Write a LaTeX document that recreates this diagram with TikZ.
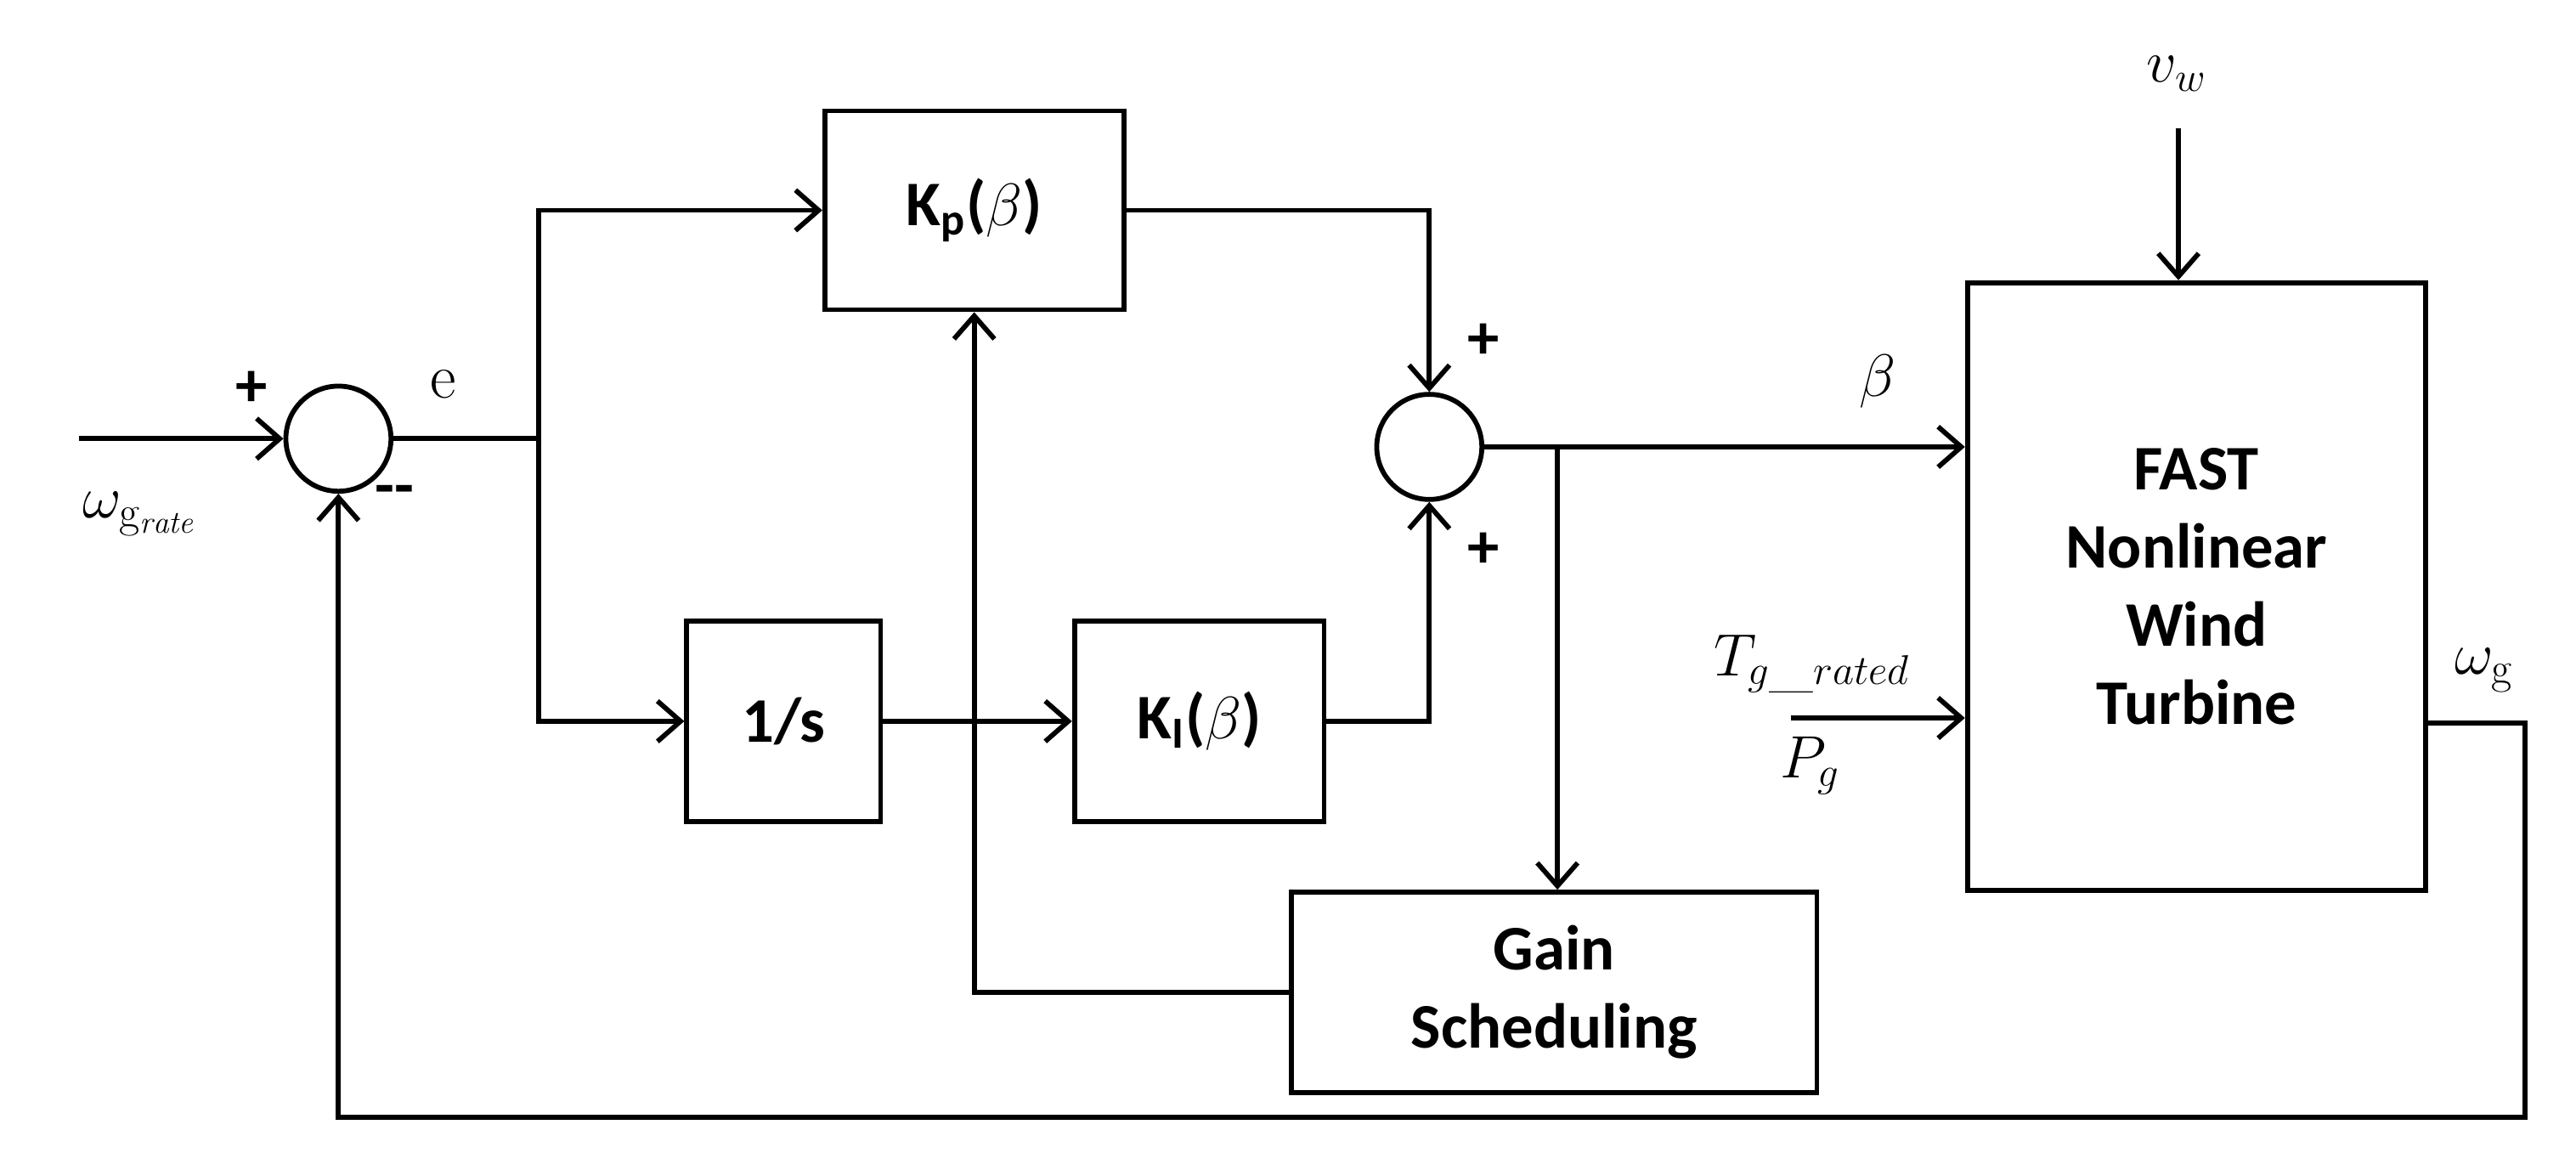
\documentclass[tikz,border=0pt]{standalone}
\usepackage{fontspec}
\newfontfamily\calib{Carlito}
\usetikzlibrary{arrows.meta}
\begin{document}
\begin{tikzpicture}[x=0.02cm,y=-0.02cm,
  blk/.style={draw, line width=1.7pt, inner sep=0pt, font=\calib\bfseries\fontsize{22}{27}\selectfont, align=center},
  sumn/.style={draw, circle, line width=1.7pt, minimum size=1.28cm, inner sep=0pt},
  lbl/.style={font=\fontsize{22}{26}\selectfont},
  sgn/.style={font=\calib\bfseries\fontsize{22}{26}\selectfont},
  w/.style={line width=1.7pt},
  a/.style={line width=1.7pt, -{Straight Barb[length=8pt,width=14pt,line width=1.7pt]}},
]
\useasboundingbox (0,0) rectangle (1568,708);
% blocks
\node[sumn] (s1) at (206,267) {};
\node[sumn] (s2) at (870,272) {};
\node[blk, minimum width=3.64cm, minimum height=2.42cm] (kp) at (593,128) {K\textsubscript{p}($\beta$)};
\node[blk, minimum width=2.36cm, minimum height=2.44cm] (int) at (477,439) {1/s};
\node[blk, minimum width=3.04cm, minimum height=2.44cm] (ki) at (730,439) {K\textsubscript{I}($\beta$)};
\node[blk, minimum width=6.4cm, minimum height=2.44cm] (gs) at (946,604) {Gain\\Scheduling};
\node[blk, minimum width=5.58cm, minimum height=7.4cm] (fast) at (1337,357) {FAST\\Nonlinear\\Wind\\Turbine};
% points
\coordinate (in) at (48,267);
\coordinate (br1) at (328,267);
\coordinate (br2) at (948,272);
\coordinate (vw) at (1326,78);
\coordinate (tg) at (1090,437);
% connections
\draw[a] (in) -- (s1);
\draw[w] (s1) -- (br1);
\draw[a] (br1) |- (kp.west);
\draw[a] (br1) |- (int.west);
\draw[a] (int) -- (ki);
\draw[a] (kp.east) -| (s2.north);
\draw[a] (ki.east) -| (s2.south);
\draw[a] (s2) -- (fast.west |- s2);
\draw[a] (br2) -- (br2 |- gs.north);
\draw[a] (gs.west) -| (kp.south);
\draw[a] (vw) -- (vw |- fast.north);
\draw[a] (tg) -- (fast.west |- tg);
\draw[a] (fast.east |- 0,440) -- (1537,440) -- (1537,680) -| (s1.south);
% labels
\node[lbl] at (85,313) {$\omega_{\mathrm{g}_{\mathit{rate}}}$};
\node[sgn] at (153,237) {+};
\node[sgn] at (240,302) {\textbf{--}};
\node[lbl] at (270,234) {e};
\node[sgn] at (903,208) {+};
\node[sgn] at (903,335) {+};
\node[lbl] at (1143,232) {$\beta$};
\node[lbl] at (1325,45) {$v_w$};
\node[lbl] at (1103,404) {$T_{g\_rated}$};
\node[lbl] at (1102,466) {$P_g$};
\node[lbl] at (1512,408) {$\omega_{\mathrm{g}}$};
\end{tikzpicture}
\end{document}
